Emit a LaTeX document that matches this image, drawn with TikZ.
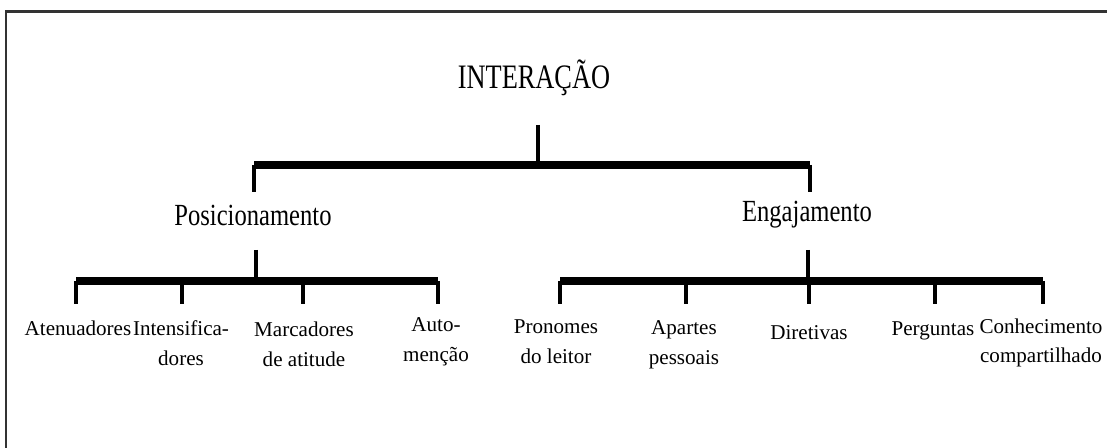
\documentclass[tikz,border=0pt]{standalone}
\usepackage{graphicx}
\usepackage{fontspec}
\setmainfont{Liberation Serif}
\newcommand{\tallword}[2][1.25]{\scalebox{1}[#1]{#2}}
\tikzstyle{root}=[font=\fontsize{15}{18}\selectfont,inner sep=0pt]
\tikzstyle{branch}=[font=\fontsize{14}{17}\selectfont,inner sep=0pt]
\tikzstyle{leaf}=[font=\fontsize{12}{17}\selectfont,align=center,inner sep=0pt]
\tikzstyle{bar}=[line width=4.5pt]
\tikzstyle{stem}=[line width=2.4pt]
\tikzstyle{frame}=[line width=1.7pt,draw=black!80]

\begin{document}
\begin{tikzpicture}[x=0.02cm,y=-0.02cm]
\useasboundingbox (0,0) rectangle (1107,448);
\draw[frame] (6,448) -- (6,11.5) -- (1107,11.5);

\node[root] (int) at (534,78) {\tallword[1.3]{INTERAÇÃO}};
\node[branch] (pos) at (253,215) {\tallword{Posicionamento}};
\node[branch] (eng) at (807,215) {\tallword{Engajamento}};

\node[leaf] (aten) at (78,328) {Atenuadores};
\node[leaf] (inte) at (181,343) {Intensifica-\\dores};
\node[leaf] (marc) at (304,344) {Marcadores\\de atitude};
\node[leaf] (auto) at (436,342) {Auto-\\menção};
\node[leaf] (pron) at (556,342) {Pronomes\\do leitor};
\node[leaf] (apar) at (684,345) {Apartes\\pessoais};
\node[leaf] (dire) at (809,333) {Diretivas};
\node[leaf] (perg) at (933,331) {Perguntas};
\node[leaf] (conh) at (1041,343) {Conhecimento\\compartilhado};

% top level
\coordinate (i0) at (538,125);
\coordinate (i1) at (538,165);
\coordinate (p0) at (254,165);
\coordinate (e0) at (810,165);
\coordinate (p1) at (254,192);
\coordinate (e1) at (810,192);
\draw[stem] (i0) -- (i1);
\draw[bar] (p0) -- (e0);
\draw[stem] (p0) -- (p1);
\draw[stem] (e0) -- (e1);

% Posicionamento
\coordinate (ps) at (256,250);
\coordinate (pb) at (256,281);
\coordinate (pa) at (76,281);
\coordinate (pd) at (438,281);
\draw[stem] (ps) -- (pb);
\draw[bar] (pa) -- (pd);
\draw[stem] (pa) -- (76,304);
\draw[stem] (182,281) -- (182,304);
\draw[stem] (303,281) -- (303,304);
\draw[stem] (pd) -- (438,304);

% Engajamento
\coordinate (es) at (808,250);
\coordinate (eb) at (808,281);
\coordinate (ea) at (560,281);
\coordinate (ed) at (1043,281);
\draw[stem] (es) -- (eb);
\draw[bar] (ea) -- (ed);
\draw[stem] (ea) -- (560,304);
\draw[stem] (686,281) -- (686,304);
\draw[stem] (809,281) -- (809,304);
\draw[stem] (935,281) -- (935,304);
\draw[stem] (ed) -- (1043,304);
\end{tikzpicture}
\end{document}
